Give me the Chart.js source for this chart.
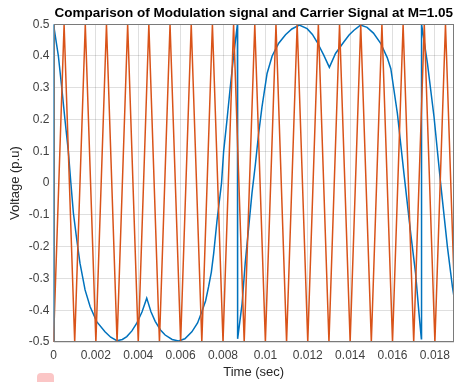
<!DOCTYPE html>
<html>
<head>
<meta charset="utf-8">
<script src="https://cdn.jsdelivr.net/npm/chart.js@4.4.1/dist/chart.umd.min.js"></script>
<style>
    body { margin: 0; background: #fff; }
    #wrap { position: relative; width: 456px; height: 382px; }
    #blob { position: absolute; left: 37px; top: 373px; width: 17px; height: 14px; background: #fbc6c6; border-radius: 4px; }
</style>
</head>
<body>
<div id="wrap">
    <canvas id="chart" width="456" height="382"></canvas>
    <div id="blob"></div>
</div>
<script>
// Modulation signal
const modTime = [
    0, 0, 0.00023, 0.00039, 0.00054, 0.0007, 0.00082, 0.00094, 0.0011, 0.00125,
    0.00149, 0.00173, 0.00204, 0.00243, 0.0027, 0.00299, 0.00325, 0.00346, 0.0037, 0.00393,
    0.00418, 0.0044, 0.0046, 0.0048, 0.00505, 0.00527, 0.0056, 0.0059, 0.0062, 0.00653,
    0.0068, 0.007, 0.00718, 0.00732, 0.00745, 0.00756, 0.00772, 0.00793, 0.00803, 0.00819,
    0.00834, 0.0085, 0.00868, 0.00869, 0.0089, 0.00905, 0.00921, 0.00937, 0.00953, 0.00968,
    0.00984, 0.01008, 0.01032, 0.01063, 0.01095, 0.01125, 0.0116, 0.01197, 0.01222, 0.01244,
    0.01276, 0.01302, 0.01331, 0.0137, 0.01395, 0.01418, 0.01449, 0.0148, 0.0151, 0.01544,
    0.01575, 0.01592, 0.01623, 0.01654, 0.01686, 0.01709, 0.01725, 0.01736, 0.01737, 0.01765,
    0.01796, 0.01827, 0.01859, 0.01883, 0.019
];
const modVolt = [
    -0.5, 0.5, 0.4, 0.3, 0.2, 0.1, 0.0, -0.095, -0.179, -0.252,
    -0.336, -0.389, -0.436, -0.468, -0.485, -0.496, -0.492, -0.483, -0.465, -0.441,
    -0.405, -0.362, -0.405, -0.435, -0.462, -0.478, -0.492, -0.497, -0.49, -0.468,
    -0.44, -0.405, -0.37, -0.326, -0.28, -0.221, -0.116, 0.0, 0.1, 0.2,
    0.3, 0.4, 0.5, -0.49, -0.38, -0.25, -0.14, -0.03, 0.06, 0.155,
    0.24, 0.345, 0.4, 0.44, 0.467, 0.485, 0.497, 0.486, 0.468, 0.444,
    0.402, 0.364, 0.408, 0.444, 0.466, 0.481, 0.497, 0.49, 0.472, 0.44,
    0.395, 0.36, 0.219, 0.03, -0.159, -0.285, -0.41, -0.49, 0.5, 0.376,
    0.208, 0.0, -0.2, -0.327, -0.4
];

// Carrier signal (triangle, corner points)
const carrierTime = [
    0, 0.0005, 0.001, 0.0015, 0.002, 0.0025, 0.003, 0.0035, 0.004, 0.0045,
    0.005, 0.0055, 0.006, 0.0065, 0.007, 0.0075, 0.008, 0.0085, 0.009, 0.0095,
    0.01, 0.0105, 0.011, 0.0115, 0.012, 0.0125, 0.013, 0.0135, 0.014, 0.0145,
    0.015, 0.0155, 0.016, 0.0165, 0.017, 0.0175, 0.018, 0.0185, 0.019
];
const carrierVolt = [
    -0.5, 0.5, -0.5, 0.5, -0.5, 0.5, -0.5, 0.5, -0.5, 0.5,
    -0.5, 0.5, -0.5, 0.5, -0.5, 0.5, -0.5, 0.5, -0.5, 0.5,
    -0.5, 0.5, -0.5, 0.5, -0.5, 0.5, -0.5, 0.5, -0.5, 0.5,
    -0.5, 0.5, -0.5, 0.5, -0.5, 0.5, -0.5, 0.5, -0.5
];

// Tick labels
const xTicks = [0, 0.002, 0.004, 0.006, 0.008, 0.01, 0.012, 0.014, 0.016, 0.018];
const yTicks = [-0.5, -0.4, -0.3, -0.2, -0.1, 0, 0.1, 0.2, 0.3, 0.4, 0.5];

const FONT = '"Liberation Sans", Arial, Helvetica, sans-serif';
const GRID = 'rgba(38,38,38,0.15)';

function toPoints(xs, ys) {
    return xs.map((x, i) => ({ x: x, y: ys[i] }));
}

// Box round the plot area, like MATLAB's "box on"
const boxPlugin = {
    id: 'box',
    afterDatasetsDraw(chart) {
        const a = chart.chartArea;
        const ctx = chart.ctx;
        ctx.save();
        ctx.strokeStyle = '#7a7a7a';
        ctx.lineWidth = 1;
        ctx.strokeRect(Math.round(a.left) + 0.5, Math.round(a.top) + 0.5,
            Math.round(a.right - a.left) - 1, Math.round(a.bottom - a.top) - 1);
        ctx.restore();
    }
};

new Chart(document.getElementById('chart'), {
    type: 'line',
    data: {
        datasets: [
            {
                label: 'Carrier',
                data: toPoints(carrierTime, carrierVolt),
                borderColor: '#D95319',
                borderWidth: 1.5,
                pointRadius: 0,
                tension: 0,
                order: 0
            },
            {
                label: 'Modulation',
                data: toPoints(modTime, modVolt),
                borderColor: '#0072BD',
                borderWidth: 1.5,
                pointRadius: 0,
                tension: 0,
                order: 1
            }
        ]
    },
    options: {
        responsive: false,
        animation: false,
        devicePixelRatio: 1,
        layout: { padding: { left: 0, right: 2, top: 0, bottom: 0 } },
        plugins: {
            legend: { display: false },
            tooltip: { enabled: false },
            title: {
                display: true,
                text: 'Comparison of Modulation signal and Carrier Signal at M=1.05',
                fullSize: false,
                color: '#000',
                font: { family: FONT, size: 13.5, weight: 'bold', lineHeight: 1.2 },
                padding: { top: 5, bottom: 3 }
            }
        },
        scales: {
            x: {
                type: 'linear',
                min: 0,
                max: 0.0189,
                afterBuildTicks: scale => { scale.ticks = xTicks.map(v => ({ value: v })); },
                afterFit: scale => { scale.height = 40; },
                ticks: {
                    callback: v => String(v),
                    color: '#404040',
                    font: { family: FONT, size: 12 },
                    padding: 6,
                    maxRotation: 0,
                    autoSkip: false
                },
                grid: { color: GRID, drawTicks: false },
                border: { display: false },
                title: {
                    display: true,
                    text: 'Time (sec)',
                    color: '#262626',
                    font: { family: FONT, size: 13, lineHeight: 1.2 },
                    padding: { top: 0, bottom: 2 }
                }
            },
            y: {
                type: 'linear',
                min: -0.5,
                max: 0.5,
                afterBuildTicks: scale => { scale.ticks = yTicks.map(v => ({ value: v })); },
                afterFit: scale => { scale.width = 53.5; },
                ticks: {
                    callback: v => String(v),
                    color: '#404040',
                    font: { family: FONT, size: 12 },
                    padding: 4,
                    autoSkip: false
                },
                grid: { color: GRID, drawTicks: false },
                border: { display: false },
                title: {
                    display: true,
                    text: 'Voltage (p.u)',
                    color: '#262626',
                    font: { family: FONT, size: 13, lineHeight: 1.2 },
                    padding: { top: 8, bottom: 0 }
                }
            }
        }
    },
    plugins: [boxPlugin]
});
</script>
</body>
</html>
